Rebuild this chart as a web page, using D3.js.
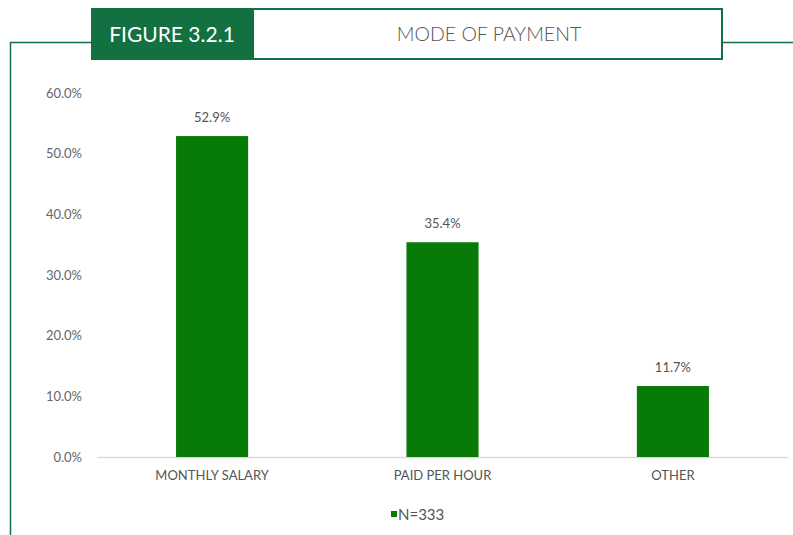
<!DOCTYPE html>
<html>
<head>
<meta charset="utf-8">
<script src="https://cdn.jsdelivr.net/npm/d3@7"></script>
<style>
  body { margin: 0; background: #fff; }
  text { font-family: Lato, "Open Sans", sans-serif; }
</style>
</head>
<body>
<div id="chartdiv"></div>
<script>
const categories = ["MONTHLY SALARY", "PAID PER HOUR", "OTHER"];
const values = [52.9, 35.4, 11.7];
const yTicks = [0, 10, 20, 30, 40, 50, 60];
const legendLabel = "N=333";
const figureLabel = "FIGURE 3.2.1";
const titleText = "MODE OF PAYMENT";

const W = 793, H = 535;
const margin = { top: 93, right: 5, bottom: 78, left: 97 };
const width = W - margin.left - margin.right;
const height = H - margin.top - margin.bottom;

const svg = d3.select("#chartdiv").append("svg")
  .attr("width", W)
  .attr("height", H);

// frame lines and header
const frameGreen = "#137040";
svg.append("path")
  .attr("d", "M10.5,535 V42.5 H91 M722,42.5 H793")
  .attr("fill", "none")
  .attr("stroke", frameGreen)
  .attr("stroke-width", 1.5);

svg.append("rect")
  .attr("x", 91).attr("y", 8).attr("width", 162).attr("height", 52)
  .attr("fill", frameGreen);
svg.append("rect")
  .attr("x", 253).attr("y", 9).attr("width", 469).attr("height", 50)
  .attr("fill", "#fff").attr("stroke", frameGreen).attr("stroke-width", 2);
svg.append("text")
  .attr("x", 172).attr("y", 42)
  .attr("text-anchor", "middle")
  .attr("fill", "#fff")
  .style("font-size", "21px")
  .text(figureLabel);
svg.append("text")
  .attr("x", 489).attr("y", 41)
  .attr("text-anchor", "middle")
  .attr("fill", "#555")
  .style("font-size", "19.5px")
  .style("font-weight", 300)
  .text(titleText);

const g = svg.append("g")
  .attr("transform", "translate(" + margin.left + "," + margin.top + ")");

const x = d3.scaleBand().domain(categories).range([0, width]).paddingInner(0.687).paddingOuter(0.343);
const y = d3.scaleLinear().domain([0, 60]).range([height, 0]);

const yAxis = d3.axisLeft(y).tickValues(yTicks).tickSize(0).tickPadding(15)
  .tickFormat(d => d.toFixed(1) + "%");
const ya = g.append("g").call(yAxis);
ya.select(".domain").remove();
ya.selectAll("text").attr("fill", "#666").style("font-size", "13px");

const xAxis = d3.axisBottom(x).tickSize(0).tickPadding(14);
const xa = g.append("g").attr("transform", "translate(0," + height + ")").call(xAxis);
xa.select(".domain").attr("stroke", "#d9d9d9").attr("stroke-width", 1.5);
xa.selectAll("text").attr("fill", "#555").style("font-size", "13px");

const barColor = "#087a08";
g.selectAll(".bar")
  .data(values)
  .enter().append("rect")
  .attr("class", "bar")
  .attr("fill", barColor)
  .attr("x", (d, i) => x(categories[i]))
  .attr("width", x.bandwidth())
  .attr("y", d => y(d))
  .attr("height", d => height - y(d));

g.selectAll(".val")
  .data(values)
  .enter().append("text")
  .attr("class", "val")
  .attr("text-anchor", "middle")
  .attr("fill", "#555")
  .style("font-size", "13px")
  .attr("x", (d, i) => x(categories[i]) + x.bandwidth() / 2)
  .attr("y", d => y(d) - 14)
  .text(d => d.toFixed(1) + "%");

// legend
const lg = svg.append("g").attr("transform", "translate(391,520)");
lg.append("rect").attr("x", 0).attr("y", -9).attr("width", 6).attr("height", 6).attr("fill", barColor);
lg.append("text").attr("x", 7).attr("y", 0).attr("fill", "#555")
  .style("font-size", "15px").text(legendLabel);
</script>
</body>
</html>
